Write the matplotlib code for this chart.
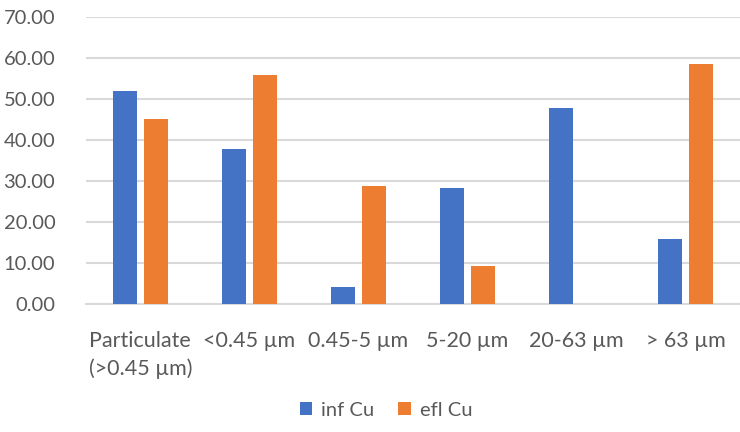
import matplotlib.pyplot as plt
import numpy as np

plt.rcParams['font.family'] = ['Lato', 'DejaVu Sans']

categories = ['Particulate\n(>0.45 µm)', '<0.45 µm', '0.45-5 µm', '5-20 µm', '20-63 µm', '> 63 µm']
inf_cu = [52.0, 37.7, 4.2, 28.3, 47.7, 15.9]
efl_cu = [45.0, 55.8, 28.7, 9.2, 0.0, 58.4]

fig = plt.figure(figsize=(7.4, 4.32), dpi=100)
ax = fig.add_axes([0.116, 0.296, 0.884, 0.665])

x = np.arange(len(categories))
w = 0.22
ax.bar(x - 0.142, inf_cu, w, color='#4472c4', label='inf Cu', zorder=3)
ax.bar(x + 0.142, efl_cu, w, color='#ed7d31', label='efl Cu', zorder=3)

ax.set_xlim(-0.5, len(categories) - 0.5)
ax.set_ylim(0, 70)
ax.set_yticks(range(0, 71, 10))
ax.set_yticklabels([f'{v:.2f}' for v in range(0, 71, 10)])
ax.set_xticks(x)
ax.set_xticklabels(categories, ha='center', multialignment='left', linespacing=1.45)

ax.grid(axis='y', color='#d9d9d9', linewidth=1.5, zorder=0)
for s in ['top', 'right', 'left']:
    ax.spines[s].set_visible(False)
ax.spines['bottom'].set_color('#d9d9d9')
ax.spines['bottom'].set_linewidth(1.5)
ax.tick_params(axis='y', length=0, labelsize=14.5, labelcolor='#595959', pad=22)
ax.tick_params(axis='x', length=0, labelsize=15.5, labelcolor='#595959', pad=19)

leg = ax.legend(loc='center', bbox_to_anchor=(0.459, -0.37), ncol=2, frameon=False,
                fontsize=14.5, handlelength=0.6, handleheight=0.6, handletextpad=0.45,
                columnspacing=1.2)
for t in leg.get_texts():
    t.set_color('#595959')

fig.savefig('out.png')
